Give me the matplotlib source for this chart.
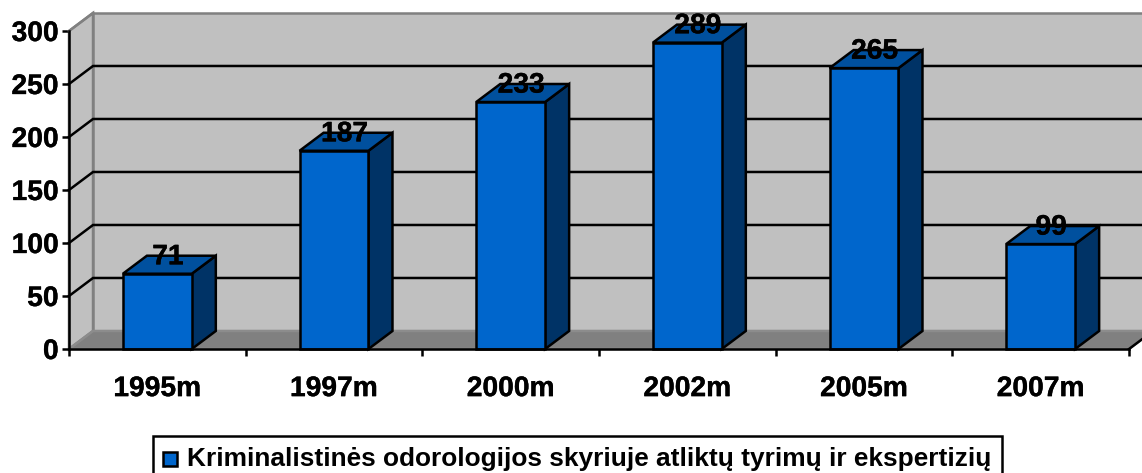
import matplotlib
matplotlib.use("Agg")
import matplotlib.pyplot as plt
import matplotlib.patheffects as pe
from matplotlib.patches import Polygon, Rectangle

years = ["1995m", "1997m", "2000m", "2002m", "2005m", "2007m"]
tyrimai = [71, 187, 233, 289, 265, 99]
y_ticks = [0, 50, 100, 150, 200, 250, 300]
legend_text = "Kriminalistinės odorologijos skyriuje atliktų tyrimų ir ekspertizių"

plt.rcParams['font.family'] = ['Liberation Sans', 'DejaVu Sans']
plt.rcParams['font.weight'] = 'bold'

W = 1142
H = 473
fig = plt.figure(figsize=(W / 100, H / 100), dpi=100)
# axes = the front plane of the old excel style 3d chart
ax = fig.add_axes([69 / W, 1 - 349 / H, 1060 / W, 318 / H])
ax.set_xlim(-0.5, 5.5)
ax.set_ylim(0, 300)
ax.patch.set_visible(False)

# depth of the fake 3d, in data units (24px right, 18px up)
dx = 0.136
dy = 17
bar_w = 0.39
lw = 1.8

front = "#0066CC"
side = "#003366"
top = "#00509E"
wall = "#C0C0C0"
floor = "#808080"
frame = "#808080"

# makes the text as heavy as the original
heavy = [pe.withStroke(linewidth=0.25, foreground="black")]

# side wall, back wall, floor
ax.add_patch(Polygon([(-0.5, 0), (-0.5 + dx, dy), (-0.5 + dx, 300 + dy), (-0.5, 300)],
                     facecolor=wall, edgecolor=frame, lw=lw, clip_on=False, zorder=1))
ax.add_patch(Polygon([(-0.5 + dx, dy), (5.5 + dx, dy), (5.5 + dx, 300 + dy), (-0.5 + dx, 300 + dy)],
                     facecolor=wall, edgecolor=frame, lw=lw, clip_on=False, zorder=1))
ax.add_patch(Polygon([(-0.5, 0), (5.5, 0), (5.5 + dx, dy), (-0.5 + dx, dy)],
                     facecolor=floor, edgecolor="#8C8C8C", lw=lw, clip_on=False, zorder=1))

# grid lines go along the side wall and the back wall
for v in y_ticks[1:-1]:
    ax.plot([-0.5, -0.5 + dx, 5.5 + dx], [v, v + dy, v + dy], color="black", lw=lw,
            clip_on=False, zorder=2, solid_joinstyle="miter")
ax.plot([-0.5, -0.5 + dx], [300, 300 + dy], color=frame, lw=lw, clip_on=False, zorder=2)
ax.plot([5.5, 5.5 + dx], [0, dy], color="black", lw=lw, clip_on=False, zorder=2)

# bars
xs = list(range(len(years)))
ax.bar(xs, tyrimai, width=bar_w, color=front, edgecolor="black", lw=lw, zorder=4, clip_on=False)
for x, v in zip(xs, tyrimai):
    r = x + bar_w / 2
    l = x - bar_w / 2
    ax.add_patch(Polygon([(r, 0), (r + dx, dy), (r + dx, v + dy), (r, v)],
                         facecolor=side, edgecolor="black", lw=lw, clip_on=False, zorder=3))
    ax.add_patch(Polygon([(l, v), (r, v), (r + dx, v + dy), (l + dx, v + dy)],
                         facecolor=top, edgecolor="black", lw=lw, clip_on=False, zorder=3))
    ax.text(x + 0.06, v + dy - 1.5, str(v), ha="center", va="center", fontsize=20.3,
            fontweight="bold", color="black", zorder=6, clip_on=False, path_effects=heavy)

for s in ["top", "right"]:
    ax.spines[s].set_visible(False)
for s in ["left", "bottom"]:
    ax.spines[s].set_linewidth(lw)
    ax.spines[s].set_zorder(5)

ax.set_yticks(y_ticks)
ax.set_yticklabels([str(v) for v in y_ticks], fontsize=20.3, fontweight="bold", path_effects=heavy)
ax.tick_params(axis="y", length=5, width=lw, pad=2.5)

ax.set_xticks([i - 0.5 for i in range(len(years) + 1)])
ax.set_xticklabels([])
ax.set_xticks(xs, minor=True)
ax.set_xticklabels(years, minor=True, fontsize=20.3, fontweight="bold", path_effects=heavy)
ax.tick_params(axis="x", which="major", length=5, width=lw)
ax.tick_params(axis="x", which="minor", length=0, pad=19.5)

# legend box, runs off the bottom of the picture like the original
fig.add_artist(Rectangle((153 / W, 1 - 490 / H), 849 / W, 54 / H, transform=fig.transFigure,
                         facecolor="white", edgecolor="black", lw=lw))
fig.add_artist(Rectangle((163 / W, 1 - 465.5 / H), 13.5 / W, 13.5 / H, transform=fig.transFigure,
                         facecolor=front, edgecolor="black", lw=lw))
fig.text(187 / W, 1 - 459 / H, legend_text, fontsize=18.9, fontweight="bold", va="center", ha="left")

fig.savefig("out.png", dpi=100)
